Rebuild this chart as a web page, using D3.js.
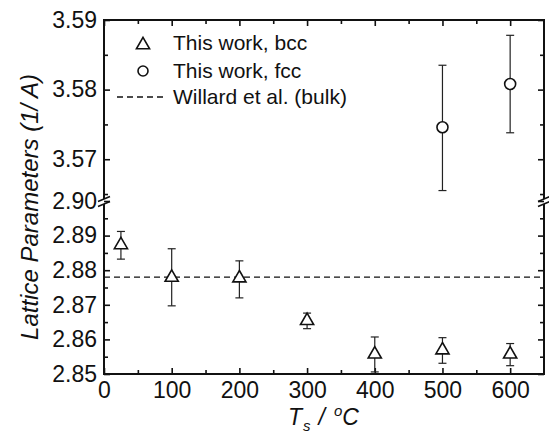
<!DOCTYPE html>
<html>
<head>
<meta charset="utf-8">
<script src="https://cdn.jsdelivr.net/npm/d3@7"></script>
<style>
  body { margin: 0; background: #fff; }
  svg { display: block; }
  text { font-family: "Liberation Sans", Arial, sans-serif; fill: #111; }
</style>
</head>
<body>
<svg id="chart" width="549" height="433"></svg>
<script>
// growth temperature (deg C)
var bccT = [25, 100, 200, 300, 400, 500, 600];
var bccA = [2.8876, 2.8782, 2.8780, 2.8657, 2.8560, 2.8572, 2.8560];
var bccHi = [2.8912, 2.8862, 2.8827, 2.8676, 2.8607, 2.8605, 2.8588];
var bccLo = [2.8832, 2.8697, 2.8720, 2.8631, 2.8506, 2.8531, 2.8524];

var fccT = [500, 600];
var fccA = [3.5746, 3.5808];
var fccHi = [3.5835, 3.5878];
var fccLo = [3.5655, 3.5738];

var bulkA = 2.878;

var xTicks = [0, 100, 200, 300, 400, 500, 600];
var yLowTicks = [2.85, 2.86, 2.87, 2.88, 2.89, 2.90];
var yHighTicks = [3.57, 3.58, 3.59];

var mLeft = 104, mRight = 544, mTop = 20, mBottom = 374, breakY = 201;

var svg = d3.select("#chart");

var x = d3.scaleLinear().domain([0, 650]).range([mLeft, mRight]);
var yLow = d3.scaleLinear().domain([2.85, 2.90]).range([mBottom, breakY]);
var yHigh = d3.scaleLinear().domain([3.564, 3.59]).range([breakY, mTop]);

// axes: ticks point inward
function styleAxis(g) {
    g.select(".domain").remove();
    g.selectAll("line").attr("stroke", "#111").attr("stroke-width", 1.6);
    g.selectAll("text").style("font-size", "23px").attr("fill", "#111");
}

svg.append("g").attr("transform", "translate(0," + mBottom + ")")
    .call(d3.axisBottom(x).tickValues(xTicks).tickSize(-6).tickPadding(8).tickFormat(d3.format("d")))
    .call(styleAxis);
svg.append("g").attr("transform", "translate(0," + mBottom + ")")
    .call(d3.axisBottom(x).tickValues(d3.range(50, 650, 100)).tickSize(-4).tickFormat(""))
    .call(styleAxis);
svg.append("g").attr("transform", "translate(0," + mTop + ")")
    .call(d3.axisTop(x).tickValues(xTicks).tickSize(-6).tickFormat(""))
    .call(styleAxis);
svg.append("g").attr("transform", "translate(0," + mTop + ")")
    .call(d3.axisTop(x).tickValues(d3.range(50, 650, 100)).tickSize(-4).tickFormat(""))
    .call(styleAxis);

[[yLow, yLowTicks, [2.855, 2.865, 2.875, 2.885, 2.895]],
 [yHigh, yHighTicks, [3.565, 3.575, 3.585]]].forEach(function(s) {
    svg.append("g").attr("transform", "translate(" + mLeft + ",0)")
        .call(d3.axisLeft(s[0]).tickValues(s[1]).tickSize(-6).tickPadding(7).tickFormat(d3.format(".2f")))
        .call(styleAxis);
    svg.append("g").attr("transform", "translate(" + mLeft + ",0)")
        .call(d3.axisLeft(s[0]).tickValues(s[2]).tickSize(-4).tickFormat(""))
        .call(styleAxis);
    svg.append("g").attr("transform", "translate(" + mRight + ",0)")
        .call(d3.axisRight(s[0]).tickValues(s[1]).tickSize(-6).tickFormat(""))
        .call(styleAxis);
    svg.append("g").attr("transform", "translate(" + mRight + ",0)")
        .call(d3.axisRight(s[0]).tickValues(s[2]).tickSize(-4).tickFormat(""))
        .call(styleAxis);
});

// frame with gaps at the break
var frame = svg.append("g").attr("stroke", "#111").attr("stroke-width", 2).attr("fill", "none");
frame.append("path").attr("d", "M" + mLeft + "," + (breakY - 2) + "V" + mTop + "H" + mRight + "V" + (breakY - 2));
frame.append("path").attr("d", "M" + mLeft + "," + (breakY + 3) + "V" + mBottom + "H" + mRight + "V" + (breakY + 3));

[mLeft, mRight].forEach(function(ax) {
    [breakY - 2, breakY + 3].forEach(function(by) {
        frame.append("line")
            .attr("x1", ax - 6).attr("y1", by + 2.5)
            .attr("x2", ax + 6).attr("y2", by - 2.5)
            .attr("stroke-width", 1.6);
    });
});

// bulk reference line
svg.append("line")
    .attr("x1", mLeft).attr("x2", mRight)
    .attr("y1", yLow(bulkA)).attr("y2", yLow(bulkA))
    .attr("stroke", "#111").attr("stroke-width", 1.3)
    .attr("stroke-dasharray", "6,4");

// error bars
function errorBars(ts, lo, hi, scale) {
    var g = svg.append("g").attr("stroke", "#222").attr("stroke-width", 1.2);
    ts.forEach(function(t, i) {
        var cx = x(t);
        g.append("line").attr("x1", cx).attr("x2", cx).attr("y1", scale(lo[i])).attr("y2", scale(hi[i]));
        [lo[i], hi[i]].forEach(function(v) {
            g.append("line").attr("x1", cx - 4).attr("x2", cx + 4).attr("y1", scale(v)).attr("y2", scale(v));
        });
    });
}
errorBars(bccT, bccLo, bccHi, yLow);
errorBars(fccT, fccLo, fccHi, yHigh);

var tri = d3.symbol().type(d3.symbolTriangle).size(75);

svg.append("g").selectAll("path")
    .data(bccT)
    .join("path")
    .attr("d", tri)
    .attr("transform", function(d, i) { return "translate(" + x(d) + "," + (yLow(bccA[i]) + 1) + ")"; })
    .attr("fill", "#fff").attr("stroke", "#111").attr("stroke-width", 1.6);

svg.append("g").selectAll("circle")
    .data(fccT)
    .join("circle")
    .attr("cx", function(d) { return x(d); })
    .attr("cy", function(d, i) { return yHigh(fccA[i]); })
    .attr("r", 5.5)
    .attr("fill", "#fff").attr("stroke", "#111").attr("stroke-width", 1.6);

// legend
var lg = svg.append("g");
lg.append("path").attr("d", tri).attr("transform", "translate(143,45)")
    .attr("fill", "#fff").attr("stroke", "#111").attr("stroke-width", 1.6);
lg.append("circle").attr("cx", 143).attr("cy", 71).attr("r", 5)
    .attr("fill", "#fff").attr("stroke", "#111").attr("stroke-width", 1.6);
lg.append("line").attr("x1", 117).attr("x2", 166).attr("y1", 97).attr("y2", 97)
    .attr("stroke", "#111").attr("stroke-width", 1.3).attr("stroke-dasharray", "6,4");
[["This work, bcc", 43], ["This work, fcc", 71], ["Willard et al. (bulk)", 97]].forEach(function(e) {
    lg.append("text").attr("x", 173).attr("y", e[1]).attr("dy", "0.35em")
        .style("font-size", "21px").text(e[0]);
});

// axis titles
svg.append("text")
    .attr("transform", "translate(38,207) rotate(-90)")
    .attr("text-anchor", "middle")
    .style("font-size", "24px").style("font-style", "italic")
    .text("Lattice Parameters (1/ A)");

var xt = svg.append("text")
    .attr("x", 288).attr("y", 425)
    .style("font-size", "23px").style("font-style", "italic");
xt.append("tspan").text("T");
xt.append("tspan").attr("dy", 6).attr("dx", 1).style("font-size", "15px").text("s");
xt.append("tspan").attr("dy", -6).attr("dx", 8).text("/");
xt.append("tspan").attr("dy", -9).attr("dx", 9).style("font-size", "15px").text("o");
xt.append("tspan").attr("dy", 9).text("C");
</script>
</body>
</html>
